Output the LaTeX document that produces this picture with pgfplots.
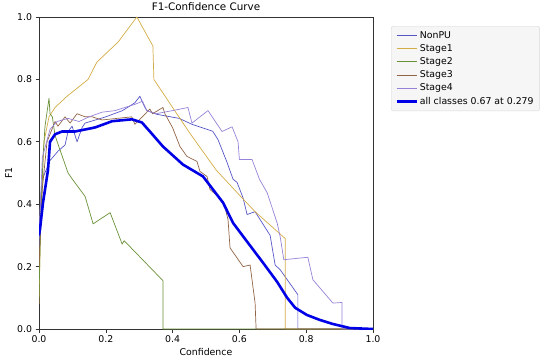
\documentclass[border=0pt]{standalone}
\usepackage{fontspec}
\setmainfont{DejaVu Sans}
\usepackage{pgfplots}
\pgfplotsset{compat=1.18}
\definecolor{cNon}{RGB}{85,85,200}
\definecolor{cS1}{RGB}{212,172,70}
\definecolor{cS2}{RGB}{105,145,55}
\definecolor{cS3}{RGB}{145,100,70}
\definecolor{cS4}{RGB}{150,130,215}
\definecolor{cAll}{RGB}{0,0,230}
\begin{document}
\begin{tikzpicture}
\begin{axis}[
  scale only axis,
  width=334bp, height=312bp,
  xmin=0, xmax=1, ymin=0, ymax=1,
  xtick={0,0.2,0.4,0.6,0.8,1.0},
  ytick={0,0.2,0.4,0.6,0.8,1.0},
  xticklabel style={/pgf/number format/.cd, fixed, fixed zerofill, precision=1},
  yticklabel style={/pgf/number format/.cd, fixed, fixed zerofill, precision=1},
  /pgf/number format/assume math mode=true,
  tick align=outside,
  major tick length=3.5bp,
  tick style={black!80, line width=0.6bp},
  axis line style={black!80, line width=0.6bp},
  xtick pos=bottom, ytick pos=left,
  tick label style={font=\fontsize{9.4}{11}\selectfont},
  label style={font=\fontsize{9.4}{11}\selectfont},
  title style={font=\fontsize{10.4}{12}\selectfont, yshift=-3bp},
  title={F1-Confidence Curve},
  xlabel={Confidence}, ylabel={F1},
  xlabel style={yshift=2bp},
  ylabel style={yshift=-2bp},
  legend cell align=left,
  legend style={at={(1.054,0.971)}, anchor=north west,
    fill=gray!7, draw=gray!30, rounded corners=2pt,
    font=\fontsize{9.4}{11}\selectfont,
    row sep=0.8bp, inner xsep=4bp, inner ysep=3bp},
  legend image code/.code={\draw[#1] (0bp,0bp) -- (20bp,0bp);},
  every axis plot/.append style={line join=round},
]
\addplot[cNon, line width=0.7bp] coordinates {
(0,0.25)(0.005,0.42)(0.01,0.48)(0.033,0.54)(0.057,0.57)(0.078,0.59)(0.087,0.633)(0.099,0.65)(0.114,0.60)(0.129,0.646)(0.138,0.66)(0.2,0.68)(0.25,0.70)(0.287,0.725)(0.302,0.746)(0.317,0.71)(0.323,0.70)(0.353,0.688)(0.42,0.675)(0.458,0.656)(0.52,0.634)(0.536,0.607)(0.563,0.534)(0.581,0.48)(0.593,0.47)(0.611,0.42)(0.623,0.367)(0.647,0.376)(0.692,0.30)(0.707,0.205)(0.722,0.19)(0.775,0.11)(0.775,0)(1,0)
};
\addlegendentry{NonPU}
\addplot[cS1, line width=0.7bp] coordinates {
(0,0.08)(0.005,0.35)(0.015,0.6)(0.03,0.68)(0.048,0.71)(0.084,0.746)(0.147,0.80)(0.173,0.855)(0.237,0.92)(0.293,1.0)(0.341,0.907)(0.344,0.80)(0.45,0.63)(0.53,0.51)(0.608,0.42)(0.647,0.376)(0.737,0.29)(0.737,0)(1,0)
};
\addlegendentry{Stage1}
\addplot[cS2, line width=0.7bp] coordinates {
(0,0.1)(0.005,0.35)(0.012,0.55)(0.018,0.65)(0.03,0.74)(0.033,0.69)(0.04,0.68)(0.048,0.62)(0.087,0.50)(0.1,0.48)(0.138,0.425)(0.162,0.337)(0.213,0.373)(0.249,0.272)(0.255,0.283)(0.371,0.155)(0.371,0)(1,0)
};
\addlegendentry{Stage2}
\addplot[cS3, line width=0.7bp] coordinates {
(0,0.2)(0.01,0.45)(0.024,0.60)(0.048,0.665)(0.057,0.65)(0.078,0.68)(0.093,0.66)(0.114,0.69)(0.138,0.68)(0.159,0.68)(0.189,0.67)(0.278,0.68)(0.287,0.656)(0.30,0.67)(0.332,0.705)(0.34,0.69)(0.371,0.71)(0.377,0.69)(0.40,0.645)(0.422,0.585)(0.443,0.553)(0.473,0.537)(0.482,0.505)(0.503,0.489)(0.512,0.447)(0.542,0.42)(0.557,0.39)(0.566,0.35)(0.572,0.26)(0.611,0.20)(0.632,0.205)(0.647,0.083)(0.65,0)(1,0)
};
\addlegendentry{Stage3}
\addplot[cS4, line width=0.7bp] coordinates {
(0,0.3)(0.01,0.55)(0.033,0.64)(0.054,0.665)(0.087,0.675)(0.12,0.665)(0.15,0.68)(0.189,0.695)(0.228,0.70)(0.287,0.72)(0.31,0.73)(0.323,0.70)(0.35,0.69)(0.40,0.70)(0.446,0.71)(0.458,0.66)(0.506,0.70)(0.548,0.633)(0.578,0.648)(0.596,0.60)(0.60,0.543)(0.638,0.543)(0.66,0.48)(0.683,0.437)(0.713,0.34)(0.722,0.296)(0.733,0.222)(0.805,0.23)(0.82,0.158)(0.88,0.083)(0.907,0.085)(0.907,0)(1,0)
};
\addlegendentry{Stage4}
\addplot[cAll, line width=2.6bp] coordinates {
(0,0.30)(0.003,0.32)(0.012,0.405)(0.027,0.51)(0.033,0.60)(0.048,0.624)(0.069,0.633)(0.108,0.633)(0.168,0.646)(0.219,0.666)(0.278,0.672)(0.308,0.662)(0.332,0.633)(0.371,0.585)(0.431,0.527)(0.491,0.489)(0.521,0.447)(0.551,0.405)(0.581,0.34)(0.623,0.28)(0.671,0.212)(0.713,0.151)(0.743,0.10)(0.767,0.068)(0.802,0.045)(0.841,0.029)(0.88,0.016)(0.931,0.003)(1,0)
};
\addlegendentry{all classes 0.67 at 0.279}
\coordinate (SW) at (rel axis cs:0,0);
\end{axis}
\pgfresetboundingbox
\path (SW) ++(-39bp,-33bp) rectangle ++(550bp,362bp);
\end{tikzpicture}
\end{document}
